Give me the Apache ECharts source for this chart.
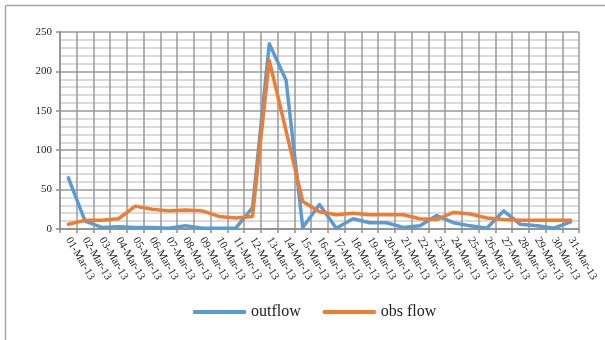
<!DOCTYPE html>
<html>
<head>
<meta charset="utf-8">
<script src="https://cdn.jsdelivr.net/npm/echarts@6/dist/echarts.min.js"></script>
<style>
  html, body { margin: 0; padding: 0; background: #fff; }
  #chart { width: 605px; height: 340px; }
</style>
</head>
<body>
<div id="chart"></div>
<script>
// Daily dates for March 2013
const categories = [
  '01-Mar-13','02-Mar-13','03-Mar-13','04-Mar-13','05-Mar-13','06-Mar-13','07-Mar-13','08-Mar-13',
  '09-Mar-13','10-Mar-13','11-Mar-13','12-Mar-13','13-Mar-13','14-Mar-13','15-Mar-13','16-Mar-13',
  '17-Mar-13','18-Mar-13','19-Mar-13','20-Mar-13','21-Mar-13','22-Mar-13','23-Mar-13','24-Mar-13',
  '25-Mar-13','26-Mar-13','27-Mar-13','28-Mar-13','29-Mar-13','30-Mar-13','31-Mar-13'
];

// Simulated outflow
const outflow = [
  65, 10, 2, 3, 2, 2, 1, 4, 1, 1, 1, 27, 235, 189, 2, 31,
  1, 13, 8, 8, 2, 4, 17, 8, 4, 1, 23, 6, 4, 1, 9
];

// Observed flow
const obsFlow = [
  6, 11, 11, 13, 29, 25, 23, 24, 23, 16, 14, 16, 214, 125, 35, 22,
  18, 20, 18, 18, 18, 13, 12, 21, 19, 14, 12, 11, 11, 11, 11
];

const yTicks = { min: 0, max: 250, interval: 50 };

const serif = 'Liberation Serif, Times New Roman, serif';
const chart = echarts.init(document.getElementById('chart'));

chart.setOption({
  animation: false,
  backgroundColor: '#fff',
  graphic: [
    { type: 'line', shape: { x1: 5.5, y1: 5.5, x2: 605, y2: 5.5 }, style: { stroke: '#a6a6a6', lineWidth: 1.5 } },
    { type: 'line', shape: { x1: 5.5, y1: 5.5, x2: 5.5, y2: 340 }, style: { stroke: '#a6a6a6', lineWidth: 1.5 } }
  ],
  grid: { left: 60, right: 26, top: 32, bottom: 111, containLabel: false },
  legend: {
    left: 188,
    top: 299,
    icon: 'roundRect',
    itemWidth: 53,
    itemHeight: 4,
    itemGap: 22,
    textStyle: { fontFamily: serif, fontSize: 16, color: '#222', padding: [0, 0, 0, 0] },
    data: ['outflow', 'obs flow']
  },
  xAxis: {
    type: 'category',
    data: categories,
    boundaryGap: true,
    axisLine: { lineStyle: { color: '#8c8c8c', width: 1.5 } },
    axisTick: { show: true, interval: 0, length: 4, lineStyle: { color: '#8c8c8c', width: 1.5 } },
    axisLabel: {
      interval: 0,
      rotate: -60,
      margin: 9,
      fontFamily: serif,
      fontSize: 11,
      color: '#222'
    },
    splitLine: { show: true, interval: 0, lineStyle: { color: '#9a9a9a', width: 1.5 } }
  },
  yAxis: {
    type: 'value',
    min: yTicks.min,
    max: yTicks.max,
    interval: yTicks.interval,
    axisLine: { show: true, lineStyle: { color: '#8c8c8c', width: 1.5 } },
    axisTick: { show: true, length: 4, lineStyle: { color: '#8c8c8c', width: 1.5 } },
    axisLabel: { margin: 8, fontFamily: serif, fontSize: 11, color: '#222' },
    splitLine: { show: true, lineStyle: { color: '#9a9a9a', width: 1.5 } },
    minorTick: { show: false, splitNumber: 5 },
    minorSplitLine: { show: true, lineStyle: { color: '#d0d0d0', width: 1.5 } }
  },
  series: [
    {
      name: 'outflow',
      type: 'line',
      data: outflow,
      symbol: 'none',
      color: '#5B9BD5',
      lineStyle: { width: 3.5, color: '#5B9BD5', cap: 'round', join: 'round' }
    },
    {
      name: 'obs flow',
      type: 'line',
      data: obsFlow,
      symbol: 'none',
      color: '#ED7D31',
      lineStyle: { width: 3.5, color: '#ED7D31', cap: 'round', join: 'round' }
    }
  ]
});
</script>
</body>
</html>
